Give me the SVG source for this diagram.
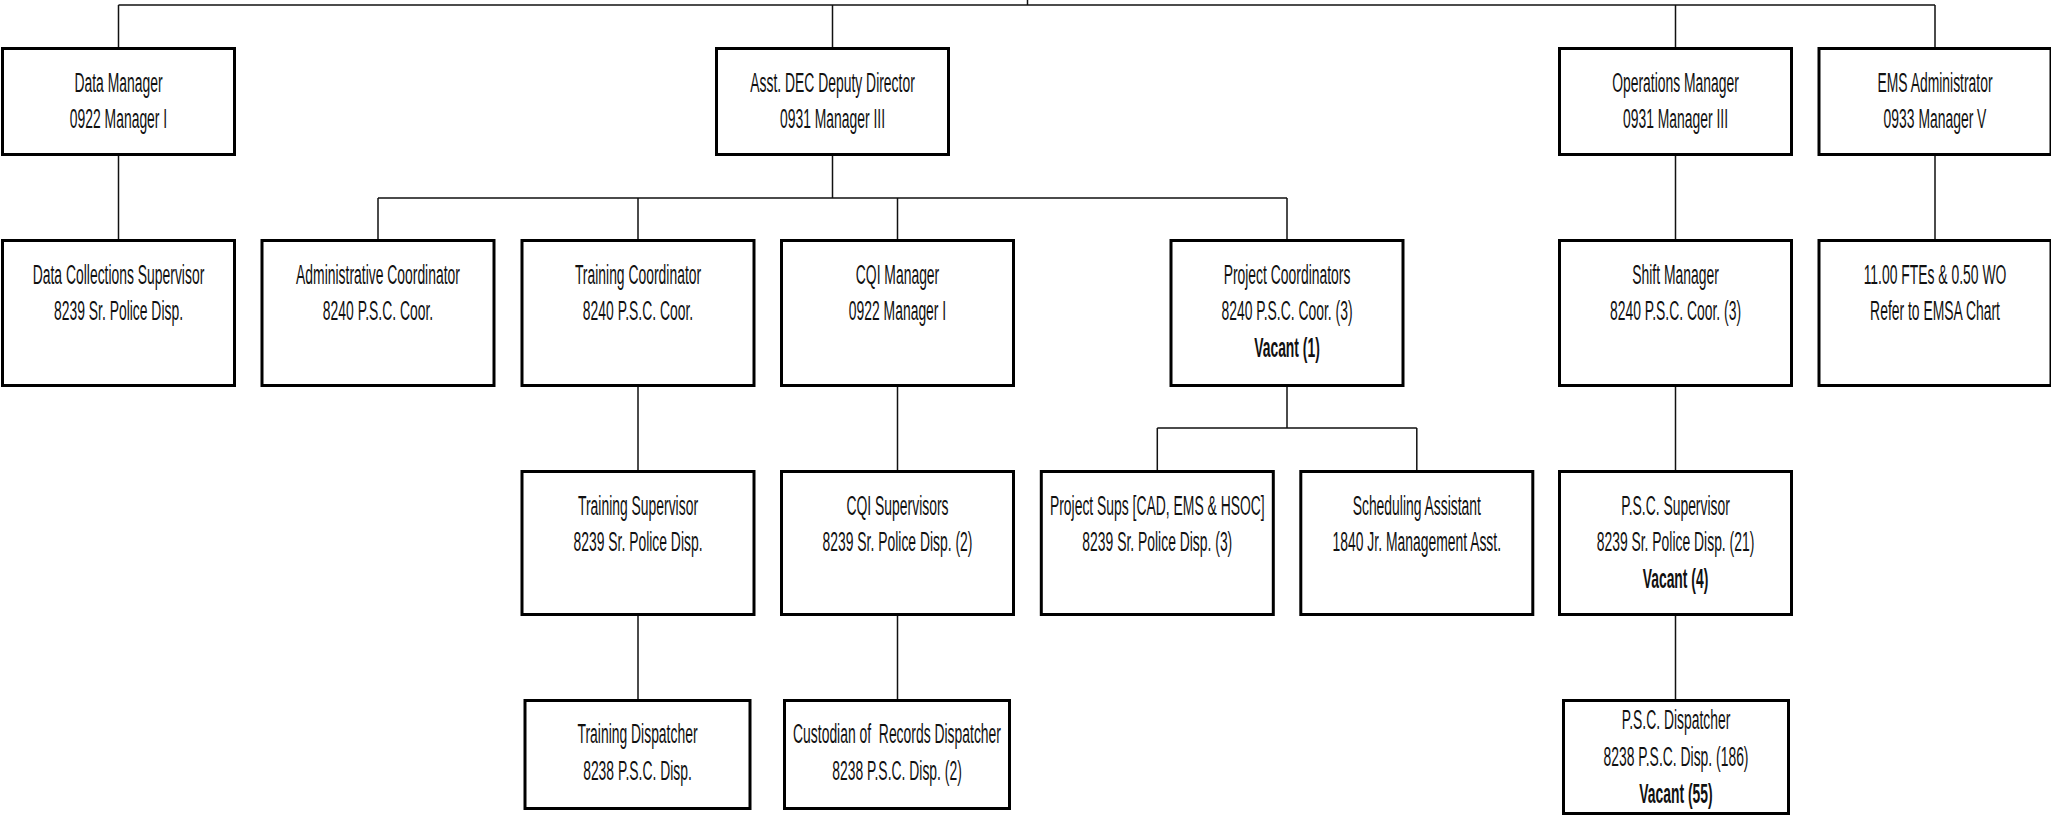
<svg xmlns="http://www.w3.org/2000/svg" width="2051" height="816" viewBox="0 0 2051 816">
  <style>
    .box { fill: #ffffff; stroke: #000000; stroke-width: 3; }
    .wire { fill: none; stroke: #111111; stroke-width: 1.5; }
    .lbl text { font-family: "Liberation Sans", Arial, sans-serif; font-size: 27px; fill: #111111; text-anchor: middle; }
    .lbl text.vac { font-weight: bold; }
  </style>
  <rect x="0" y="0" width="2051" height="816" fill="#ffffff"/>

  <!-- reporting lines -->
  <g id="connectors" class="wire">
    <path d="M1027.5 0 V5"/>
    <path d="M118.5 5 H1935"/>
    <path d="M118.5 5 V47 M832.5 5 V47 M1675.5 5 V47 M1935 5 V47"/>
    <path d="M118.5 156 V239"/>
    <path d="M832.5 156 V198 M378 198 H1287 M378 198 V239 M638 198 V239 M897.5 198 V239 M1287 198 V239"/>
    <path d="M1675.5 156 V239 M1935 156 V239"/>
    <path d="M638 387 V470 M897.5 387 V470"/>
    <path d="M1287 387 V428 M1157.3 428 H1416.8 M1157.3 428 V470 M1416.8 428 V470"/>
    <path d="M1675.5 387 V470"/>
    <path d="M638 616 V699 M897.5 616 V699 M1675.5 616 V699"/>
  </g>

  <!-- row 1 -->
  <g id="data-manager">
    <rect class="box" x="2.5" y="48.5" width="232" height="106"/>
    <g class="lbl" transform="translate(118.5 0) scale(0.515 1)">
      <text x="0" y="92">Data Manager</text>
      <text x="0" y="128">0922 Manager I</text>
    </g>
  </g>
  <g id="asst-dec-deputy-director">
    <rect class="box" x="716.5" y="48.5" width="232" height="106"/>
    <g class="lbl" transform="translate(832.5 0) scale(0.515 1)">
      <text x="0" y="92">Asst. DEC Deputy Director</text>
      <text x="0" y="128">0931 Manager III</text>
    </g>
  </g>
  <g id="operations-manager">
    <rect class="box" x="1559.5" y="48.5" width="232" height="106"/>
    <g class="lbl" transform="translate(1675.5 0) scale(0.515 1)">
      <text x="0" y="92">Operations Manager</text>
      <text x="0" y="128">0931 Manager III</text>
    </g>
  </g>
  <g id="ems-administrator">
    <rect class="box" x="1819" y="48.5" width="232" height="106"/>
    <g class="lbl" transform="translate(1935 0) scale(0.515 1)">
      <text x="0" y="92">EMS Administrator</text>
      <text x="0" y="128">0933 Manager V</text>
    </g>
  </g>

  <!-- row 2 -->
  <g id="data-collections-supervisor">
    <rect class="box" x="2.5" y="240.5" width="232" height="145"/>
    <g class="lbl" transform="translate(118.5 0) scale(0.515 1)">
      <text x="0" y="284">Data Collections Supervisor</text>
      <text x="0" y="320.5">8239 Sr. Police Disp.</text>
    </g>
  </g>
  <g id="administrative-coordinator">
    <rect class="box" x="262" y="240.5" width="232" height="145"/>
    <g class="lbl" transform="translate(378 0) scale(0.515 1)">
      <text x="0" y="284">Administrative Coordinator</text>
      <text x="0" y="320.5">8240 P.S.C. Coor.</text>
    </g>
  </g>
  <g id="training-coordinator">
    <rect class="box" x="522" y="240.5" width="232" height="145"/>
    <g class="lbl" transform="translate(638 0) scale(0.515 1)">
      <text x="0" y="284">Training Coordinator</text>
      <text x="0" y="320.5">8240 P.S.C. Coor.</text>
    </g>
  </g>
  <g id="cqi-manager">
    <rect class="box" x="781.5" y="240.5" width="232" height="145"/>
    <g class="lbl" transform="translate(897.5 0) scale(0.515 1)">
      <text x="0" y="284">CQI Manager</text>
      <text x="0" y="320.5">0922 Manager I</text>
    </g>
  </g>
  <g id="project-coordinators">
    <rect class="box" x="1171" y="240.5" width="232" height="145"/>
    <g class="lbl" transform="translate(1287 0) scale(0.515 1)">
      <text x="0" y="284">Project Coordinators</text>
      <text x="0" y="320.5">8240 P.S.C. Coor. (3)</text>
      <text class="vac" x="0" y="357">Vacant (1)</text>
    </g>
  </g>
  <g id="shift-manager">
    <rect class="box" x="1559.5" y="240.5" width="232" height="145"/>
    <g class="lbl" transform="translate(1675.5 0) scale(0.515 1)">
      <text x="0" y="284">Shift Manager</text>
      <text x="0" y="320.5">8240 P.S.C. Coor. (3)</text>
    </g>
  </g>
  <g id="emsa-staff">
    <rect class="box" x="1819" y="240.5" width="232" height="145"/>
    <g class="lbl" transform="translate(1935 0) scale(0.515 1)">
      <text x="0" y="284">11.00 FTEs &amp; 0.50 WO</text>
      <text x="0" y="320.5">Refer to EMSA Chart</text>
    </g>
  </g>

  <!-- row 3 -->
  <g id="training-supervisor">
    <rect class="box" x="522" y="471.5" width="232" height="143"/>
    <g class="lbl" transform="translate(638 0) scale(0.515 1)">
      <text x="0" y="515">Training Supervisor</text>
      <text x="0" y="551.5">8239 Sr. Police Disp.</text>
    </g>
  </g>
  <g id="cqi-supervisors">
    <rect class="box" x="781.5" y="471.5" width="232" height="143"/>
    <g class="lbl" transform="translate(897.5 0) scale(0.515 1)">
      <text x="0" y="515">CQI Supervisors</text>
      <text x="0" y="551.5">8239 Sr. Police Disp. (2)</text>
    </g>
  </g>
  <g id="project-sups">
    <rect class="box" x="1041.3" y="471.5" width="232" height="143"/>
    <g class="lbl" transform="translate(1157.3 0) scale(0.515 1)">
      <text x="0" y="515">Project Sups [CAD, EMS &amp; HSOC]</text>
      <text x="0" y="551.5">8239 Sr. Police Disp. (3)</text>
    </g>
  </g>
  <g id="scheduling-assistant">
    <rect class="box" x="1300.8" y="471.5" width="232" height="143"/>
    <g class="lbl" transform="translate(1416.8 0) scale(0.515 1)">
      <text x="0" y="515">Scheduling Assistant</text>
      <text x="0" y="551.5">1840 Jr. Management Asst.</text>
    </g>
  </g>
  <g id="psc-supervisor">
    <rect class="box" x="1559.5" y="471.5" width="232" height="143"/>
    <g class="lbl" transform="translate(1675.5 0) scale(0.515 1)">
      <text x="0" y="515">P.S.C. Supervisor</text>
      <text x="0" y="551.5">8239 Sr. Police Disp. (21)</text>
      <text class="vac" x="0" y="588">Vacant (4)</text>
    </g>
  </g>

  <!-- row 4 -->
  <g id="training-dispatcher">
    <rect class="box" x="525" y="700.5" width="225" height="108"/>
    <g class="lbl" transform="translate(637.5 0) scale(0.515 1)">
      <text x="0" y="743">Training Dispatcher</text>
      <text x="0" y="780">8238 P.S.C. Disp.</text>
    </g>
  </g>
  <g id="custodian-of-records-dispatcher">
    <rect class="box" x="784.5" y="700.5" width="225" height="108"/>
    <g class="lbl" transform="translate(897 0) scale(0.515 1)">
      <text x="0" y="743" xml:space="preserve">Custodian of  Records Dispatcher</text>
      <text x="0" y="780">8238 P.S.C. Disp. (2)</text>
    </g>
  </g>
  <g id="psc-dispatcher">
    <rect class="box" x="1563.5" y="700.5" width="225" height="113"/>
    <g class="lbl" transform="translate(1676 0) scale(0.515 1)">
      <text x="0" y="729">P.S.C. Dispatcher</text>
      <text x="0" y="766">8238 P.S.C. Disp. (186)</text>
      <text class="vac" x="0" y="803">Vacant (55)</text>
    </g>
  </g>
</svg>
